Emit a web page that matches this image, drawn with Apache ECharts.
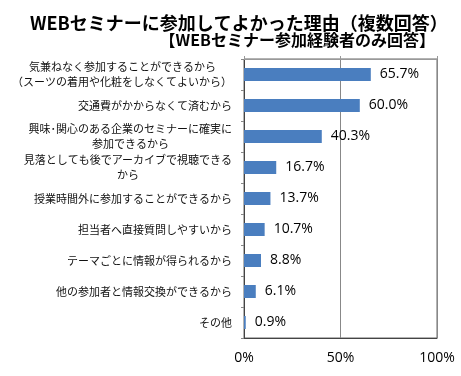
<!DOCTYPE html>
<html>
<head>
<meta charset="utf-8">
<script src="https://cdn.jsdelivr.net/npm/echarts@6/dist/echarts.min.js"></script>
<style>
    html, body { margin: 0; padding: 0; background: #fff; }
    #chart { width: 461px; height: 376px; }
</style>
</head>
<body>
<div id="chart"></div>
<script>
// 項目（上から順）
const categories = [
    '気兼ねなく参加することができるから\n（スーツの着用や化粧をしなくてよいから）',
    '交通費がかからなくて済むから',
    '興味･関心のある企業のセミナーに確実に\n参加できるから',
    '見落としても後でアーカイブで視聴できる\nから',
    '授業時間外に参加することができるから',
    '担当者へ直接質問しやすいから',
    'テーマごとに情報が得られるから',
    '他の参加者と情報交換ができるから',
    'その他'
];
const values = [65.7, 60.0, 40.3, 16.7, 13.7, 10.7, 8.8, 6.1, 0.9];
const xTicks = [0, 50, 100];

const titleMain = 'WEBセミナーに参加してよかった理由（複数回答）';
const titleSub = '【WEBセミナー参加経験者のみ回答】';

const jpFont = '"Noto Sans CJK JP", sans-serif';
const numFont = '"Open Sans", "Liberation Sans", sans-serif';
const labelSize = 11;

// 2行ラベルの短い行は右に余白を付けて中央に寄せる
const measureCtx = document.createElement('canvas').getContext('2d');
measureCtx.font = labelSize + 'px ' + jpFont;
let richStyles = {};
categories.forEach((c, i) => {
    let lines = c.split('\n');
    let widths = lines.map(l => measureCtx.measureText(l).width);
    let maxW = Math.max(...widths);
    lines.forEach((l, j) => {
        richStyles['c' + i + '_' + j] = {
            align: 'right',
            padding: [0, Math.round((maxW - widths[j]) / 2), 0, 0],
            fontFamily: jpFont,
            fontSize: labelSize,
            lineHeight: 15,
            color: '#111'
        };
    });
});

let chart = echarts.init(document.getElementById('chart'));

let option = {
    animation: false,
    backgroundColor: '#fff',
    title: [
        {
            text: titleMain,
            left: 30,
            top: 14,
            padding: 0,
            textStyle: {
                fontFamily: jpFont,
                fontWeight: 'bold',
                fontSize: 18,
                color: '#000'
            }
        },
        {
            text: titleSub,
            right: 26,
            top: 32,
            padding: 0,
            textStyle: {
                fontFamily: jpFont,
                fontWeight: 'bold',
                fontSize: 16,
                color: '#000'
            }
        }
    ],
    grid: {
        left: 244,
        right: 24,
        top: 59,
        bottom: 38,
        show: true,
        borderColor: '#666',
        borderWidth: 1
    },
    xAxis: [
        {
            type: 'value',
            min: xTicks[0],
            max: xTicks[xTicks.length - 1],
            interval: 50,
            position: 'bottom',
            axisLine: { show: true, lineStyle: { color: '#444' } },
            axisTick: { show: false },
            splitLine: { show: true, lineStyle: { color: '#888' } },
            axisLabel: {
                margin: 13,
                fontFamily: numFont,
                fontSize: 14,
                color: '#000',
                formatter: '{value}%'
            }
        },
        {
            // 上辺の小さな目盛
            type: 'value',
            min: xTicks[0],
            max: xTicks[xTicks.length - 1],
            interval: 50,
            position: 'top',
            axisLine: { show: true, lineStyle: { color: '#999' } },
            axisTick: { show: true, length: 3, lineStyle: { color: '#999' } },
            splitLine: { show: false },
            axisLabel: { show: false }
        }
    ],
    yAxis: {
        type: 'category',
        inverse: true,
        data: categories,
        axisLine: { show: true, lineStyle: { color: '#444' } },
        axisTick: { show: true, length: 3, lineStyle: { color: '#888' } },
        axisLabel: {
            margin: 12,
            fontFamily: jpFont,
            fontSize: labelSize,
            lineHeight: 15,
            color: '#111',
            formatter: function (val, idx) {
                return val.split('\n').map((l, j) => '{c' + idx + '_' + j + '|' + l + '}').join('\n');
            },
            rich: richStyles
        }
    },
    series: [
        {
            type: 'bar',
            data: values,
            barWidth: 13,
            itemStyle: { color: '#4a7ebf' },
            label: {
                show: true,
                position: 'right',
                distance: 9,
                fontFamily: numFont,
                fontSize: 14,
                color: '#000',
                formatter: p => p.value.toFixed(1) + '%'
            }
        }
    ]
};

chart.setOption(option);
</script>
</body>
</html>
